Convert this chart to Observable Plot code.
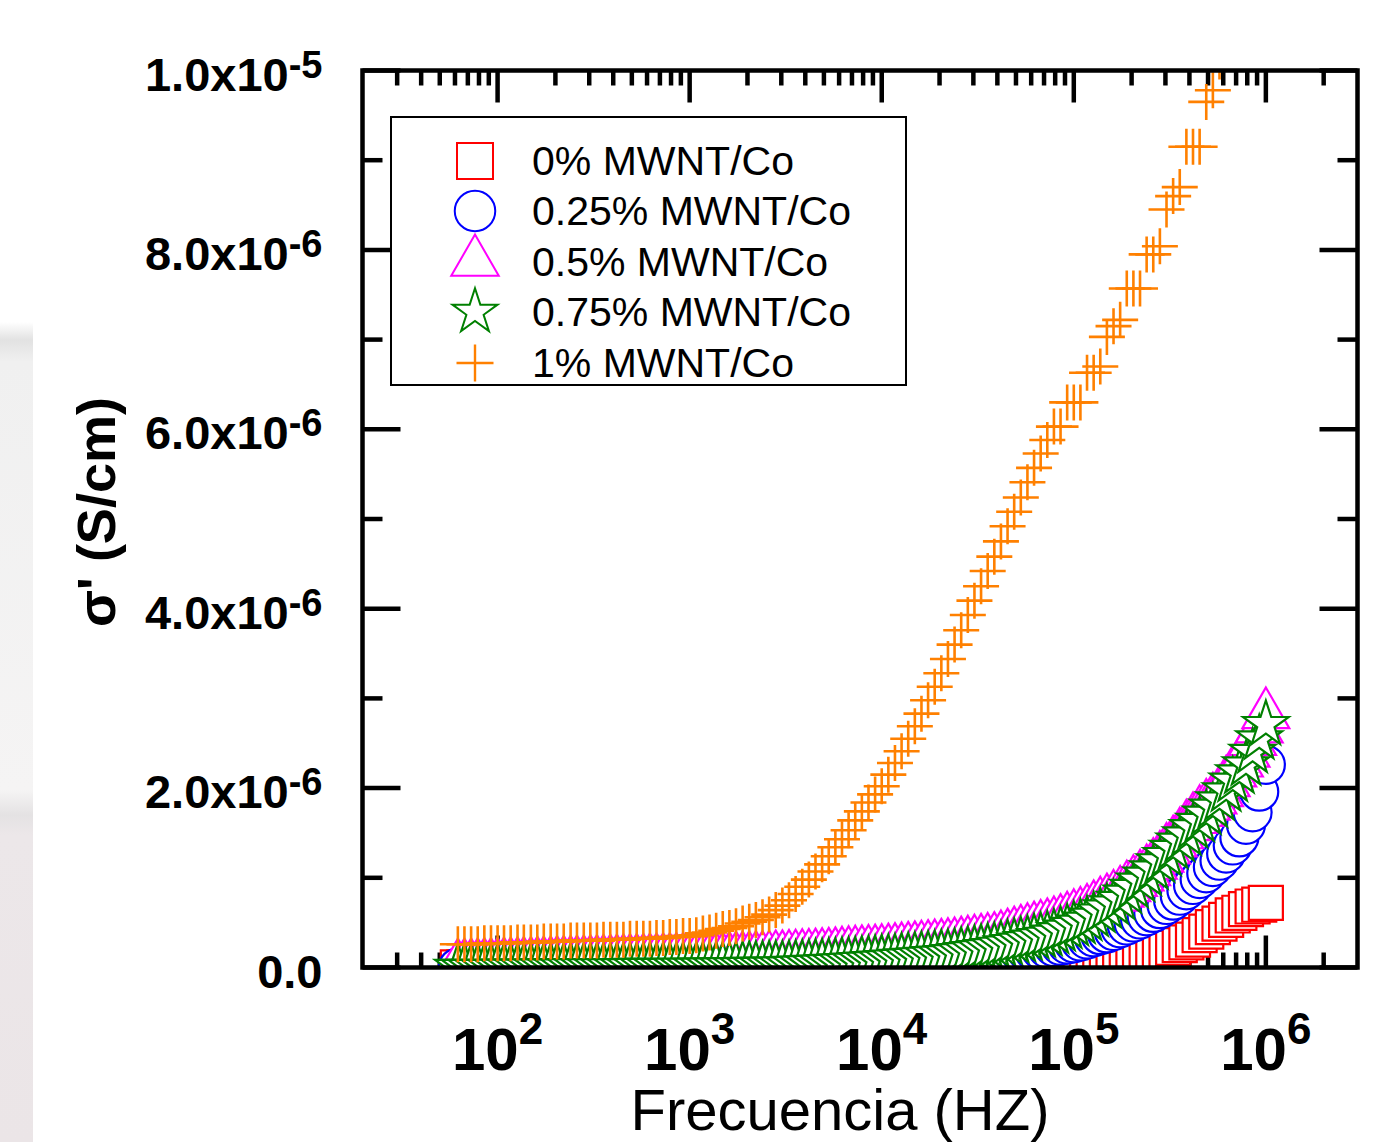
<!DOCTYPE html>
<html>
<head>
<meta charset="utf-8">
<script src="https://cdn.jsdelivr.net/npm/d3@7"></script>
<script src="https://cdn.jsdelivr.net/npm/@observablehq/plot@0.6"></script>
<style>
  html, body { margin: 0; padding: 0; background: #fff; }
  #wrap { position: relative; width: 1375px; height: 1142px; font-family: "Liberation Sans", Arial, sans-serif; overflow: hidden; }
  #strip { position: absolute; left: 0; top: 0; width: 33px; height: 1142px;
    background: linear-gradient(to bottom, #ffffff 0px, #ffffff 322px, #e2e2e2 340px, #f0f0f0 362px, #f5f4f4 790px, #e4e2e3 815px, #ece7e9 835px, #ebe5e7 1142px); }
  #chart { position: absolute; left: 0; top: 0; }
  #legend { position: absolute; left: 390px; top: 116px; width: 517px; height: 270px; box-sizing: border-box;
    border: 2.5px solid #000; background: #fff; }
  #legend .sym { position: absolute; width: 60px; height: 60px; }
  #legend .lab { position: absolute; font-size: 41px; line-height: 50px; height: 50px; white-space: nowrap; color: #000; }
</style>
</head>
<body>
<div id="wrap"><div id="strip"></div><div id="chart"></div></div>
<script>
// ---------------- DATA ----------------
// frequency (Hz)
const freq = [62.1, 67.2, 72.8, 78.8, 85.3, 92.4,
  100, 108, 117, 127, 137, 149, 161, 174, 189, 204, 221, 240, 259, 281, 304, 329, 356, 386, 418, 452, 489, 530, 574, 621, 672, 728, 788, 853, 924,
  1000, 1083, 1172, 1269, 1374, 1487, 1610, 1743, 1887, 2043, 2212, 2395, 2593, 2807, 3039, 3290, 3562, 3857, 4175, 4520, 4894, 5298, 5736, 6210, 6723, 7279, 7881, 8532, 9237,
  10000, 10826, 11721, 12689, 13738, 14873, 16102, 17433, 18874, 20434, 22122, 23950, 25929, 28072, 30392, 32903, 35622, 38566, 41753, 45204, 48939, 52983, 57362, 62102, 67234, 72790, 78805, 85317, 92367,
  100000, 108260, 117210, 126890, 137380, 148730, 161020, 174330, 188740, 204340, 221220, 239500, 259290, 280720, 303920, 329030, 356220, 385660, 417530, 452040, 489390, 529830, 573620, 621020, 672340, 727900, 788050, 853170, 923670,
  1000000];

// sigma' values in units of 1e-7 S/cm
const sigma0 = [0.01, 0.01, 0.01, 0.01, 0.01, 0.01,
  0.01, 0.01, 0.01, 0.01, 0.01, 0.01, 0.01, 0.01, 0.01, 0.01, 0.01, 0.01, 0.01, 0.01, 0.01, 0.01, 0.01, 0.01, 0.01, 0.01, 0.01, 0.01, 0.01, 0.01, 0.01, 0.01, 0.01, 0.01, 0.01,
  0.01, 0.01, 0.01, 0.01, 0.01, 0.01, 0.01, 0.01, 0.01, 0.01, 0.01, 0.01, 0.01, 0.01, 0.01, 0.02, 0.02, 0.02, 0.02, 0.02, 0.02, 0.02, 0.02, 0.02, 0.02, 0.02, 0.02, 0.02, 0.02,
  0.02, 0.02, 0.02, 0.02, 0.02, 0.03, 0.03, 0.03, 0.03, 0.03, 0.04, 0.04, 0.04, 0.04, 0.05, 0.05, 0.06, 0.06, 0.07, 0.08, 0.09, 0.10, 0.11, 0.12, 0.13, 0.14, 0.15, 0.17, 0.18,
  0.20, 0.22, 0.25, 0.30, 0.37, 0.45, 0.53, 0.62, 0.72, 0.80, 0.95, 1.1, 1.3, 1.6, 1.9, 2.2, 2.5, 2.8, 3.1, 3.6, 4.0, 4.5, 4.9, 5.3, 5.8, 6.1, 6.5, 6.8, 7.0,
  7.2];
const sigma025 = [0.02, 0.02, 0.02, 0.02, 0.02, 0.02,
  0.02, 0.02, 0.02, 0.02, 0.02, 0.02, 0.02, 0.02, 0.02, 0.02, 0.03, 0.03, 0.03, 0.03, 0.03, 0.03, 0.03, 0.03, 0.03, 0.03, 0.04, 0.04, 0.04, 0.04, 0.04, 0.04, 0.04, 0.04, 0.04,
  0.05, 0.05, 0.06, 0.06, 0.07, 0.07, 0.08, 0.08, 0.09, 0.09, 0.10, 0.10, 0.11, 0.12, 0.13, 0.14, 0.15, 0.16, 0.17, 0.18, 0.19, 0.20, 0.21, 0.22, 0.23, 0.24, 0.26, 0.27, 0.28,
  0.30, 0.33, 0.37, 0.41, 0.45, 0.49, 0.53, 0.57, 0.61, 0.65, 0.69, 0.74, 0.81, 0.88, 0.96, 1.04, 1.12, 1.21, 1.30, 1.39, 1.47, 1.56, 1.70, 1.84, 1.98, 2.12, 2.27, 2.42, 2.56,
  2.70, 2.90, 3.12, 3.36, 3.60, 3.80, 4.06, 4.37, 4.68, 5.00, 5.35, 5.70, 6.08, 6.50, 6.97, 7.45, 8.00, 8.60, 9.20, 9.85, 10.5, 11.2, 11.9, 12.7, 13.6, 14.5, 15.9, 17.3, 19.6,
  22.6];
const sigma05 = [0.20, 0.22, 0.23, 0.25, 0.27, 0.28,
  0.30, 0.32, 0.34, 0.36, 0.38, 0.40, 0.42, 0.44, 0.47, 0.49, 0.51, 0.53, 0.55, 0.57, 0.59, 0.61, 0.63, 0.65, 0.67, 0.69, 0.71, 0.73, 0.75, 0.77, 0.79, 0.80, 0.82, 0.83, 0.84,
  0.85, 0.87, 0.89, 0.90, 0.92, 0.94, 0.96, 0.98, 1.00, 1.02, 1.04, 1.06, 1.08, 1.10, 1.12, 1.16, 1.20, 1.24, 1.28, 1.32, 1.36, 1.40, 1.46, 1.52, 1.58, 1.63, 1.68, 1.72, 1.76,
  1.80, 1.87, 1.93, 2.00, 2.07, 2.13, 2.20, 2.27, 2.34, 2.40, 2.47, 2.56, 2.66, 2.76, 2.86, 2.96, 3.06, 3.16, 3.33, 3.55, 3.77, 3.97, 4.15, 4.33, 4.51, 4.69, 4.90, 5.16, 5.42,
  5.70, 5.95, 6.30, 6.70, 7.10, 7.45, 7.85, 8.30, 8.90, 9.50, 10.1, 10.7, 11.4, 12.2, 13.1, 13.9, 14.8, 15.7, 16.5, 17.3, 18.0, 18.7, 19.5, 20.6, 21.7, 22.8, 23.9, 25.2, 26.6,
  28.2];
const sigma075 = [0.02, 0.02, 0.02, 0.03, 0.03, 0.03,
  0.04, 0.05, 0.05, 0.06, 0.06, 0.07, 0.07, 0.08, 0.08, 0.09, 0.09, 0.10, 0.10, 0.10, 0.10, 0.11, 0.11, 0.11, 0.12, 0.12, 0.12, 0.13, 0.13, 0.13, 0.14, 0.14, 0.14, 0.15, 0.15,
  0.15, 0.16, 0.17, 0.18, 0.19, 0.20, 0.21, 0.22, 0.23, 0.24, 0.25, 0.26, 0.27, 0.28, 0.29, 0.31, 0.35, 0.39, 0.43, 0.47, 0.51, 0.55, 0.59, 0.63, 0.68, 0.73, 0.79, 0.84, 0.90,
  0.95, 1.01, 1.07, 1.14, 1.20, 1.26, 1.32, 1.38, 1.45, 1.51, 1.57, 1.66, 1.78, 1.89, 2.00, 2.12, 2.23, 2.35, 2.49, 2.65, 2.80, 2.96, 3.12, 3.28, 3.45, 3.61, 3.84, 4.12, 4.40,
  4.70, 4.97, 5.30, 5.75, 6.20, 6.65, 7.10, 7.60, 8.30, 8.95, 9.65, 10.3, 11.0, 11.8, 12.5, 13.3, 14.1, 14.8, 15.6, 16.3, 17.1, 17.9, 18.7, 19.7, 20.8, 21.7, 22.6, 24.0, 25.5,
  27.1];
const sigma1 = [2.6, 2.6, 2.6, 2.6, 2.7, 2.7,
  2.7, 2.7, 2.7, 2.8, 2.8, 2.8, 2.8, 2.9, 2.9, 2.9, 2.9, 3.0, 3.0, 3.0, 3.0, 3.0, 3.1, 3.1, 3.1, 3.1, 3.2, 3.2, 3.2, 3.2, 3.3, 3.3, 3.4, 3.4, 3.5,
  3.5, 3.6, 3.8, 3.9, 4.1, 4.3, 4.4, 4.6, 4.9, 5.1, 5.3, 5.6, 5.9, 6.4, 6.9, 7.5, 8.2, 9.0, 9.8, 10.7, 11.5, 12.4, 13.4, 14.3, 15.3, 16.4, 17.4, 18.4, 19.3,
  20.2, 21.5, 22.8, 24.1, 25.5, 26.9, 28.3, 29.8, 31.3, 32.8, 34.4, 36.0, 37.6, 39.3, 40.9, 42.5, 44.2, 45.8, 47.5, 49.2, 50.8, 52.4, 54.1, 55.7, 57.3, 58.8, 60.3, 60.3, 63.0,
  63.0, 63.0, 66.3, 66.3, 67.0, 70.3, 71.5, 72.2, 75.7, 75.7, 75.7, 79.5, 79.5, 80.4, 84.5, 86.0, 87.0, 91.5, 91.5, 91.5, 96.5, 97.8, 101, 104, 106, 109, 112, 115, 118,
  121];

const seriesNames = ["0% MWNT/Co", "0.25% MWNT/Co", "0.5% MWNT/Co", "0.75% MWNT/Co", "1% MWNT/Co"];
const seriesValues = [sigma0, sigma025, sigma05, sigma075, sigma1];
const seriesColors = ["#ff0000", "#0000ff", "#ff00ff", "#008000", "#ff8000"];

// axis ticks and labels
const xMajor = [1e2, 1e3, 1e4, 1e5, 1e6];
const xMajorLabels = ["10|2", "10|3", "10|4", "10|5", "10|6"];
const xMinor = [30, 40, 50, 60, 70, 80, 90,
  200, 300, 400, 500, 600, 700, 800, 900,
  2000, 3000, 4000, 5000, 6000, 7000, 8000, 9000,
  20000, 30000, 40000, 50000, 60000, 70000, 80000, 90000,
  200000, 300000, 400000, 500000, 600000, 700000, 800000, 900000,
  2000000];
const yMajor = [0, 2e-6, 4e-6, 6e-6, 8e-6, 1e-5];
const yMajorLabels = ["0.0", "2.0x10|-6", "4.0x10|-6", "6.0x10|-6", "8.0x10|-6", "1.0x10|-5"];
const yMinor = [1e-6, 3e-6, 5e-6, 7e-6, 9e-6];
const xTitle = "Frecuencia (HZ)";
const yTitle = "σ' (S/cm)";

// ---------------- SYMBOLS ----------------
const plusSymbol = {
  draw(context, size) {
    const r = Math.sqrt(size / Math.PI);
    context.moveTo(-r, 0); context.lineTo(r, 0);
    context.moveTo(0, -r); context.lineTo(0, r);
  }
};
const tickShape = { draw(context, l) { context.moveTo(0, 0); context.lineTo(0, -l); } };
const seriesSymbols = [d3.symbolSquare, d3.symbolCircle, d3.symbolTriangle, d3.symbolStar, plusSymbol];
const seriesR = [19.2, 19, 17.4, 14.3, 18];
const seriesFill = ["white", "white", "white", "white", "none"];
const seriesStrokeW = [2.2, 2.2, 2.2, 2.2, 2.6];
const legendSizes = [1296, 1288, 977, 630, Math.PI * 18.5 * 18.5];

// ---------------- MARKS ----------------
const dotMarks = seriesNames.map((name, s) => {
  const rows = freq.map((f, i) => ({ f, v: seriesValues[s][i] * 1e-7 }));
  return Plot.dot(rows, {
    x: "f", y: "v", symbol: seriesSymbols[s], r: seriesR[s],
    stroke: seriesColors[s], fill: seriesFill[s], strokeWidth: seriesStrokeW[s], clip: true
  });
});

const tickCommon = { anchor: "start", shape: tickShape, stroke: "black", strokeWidth: 4.5, strokeLinecap: "butt" };

const chart = Plot.plot({
  width: 1375,
  height: 1142,
  marginLeft: 362,
  marginRight: 18,
  marginTop: 70,
  marginBottom: 175,
  style: { fontFamily: "'Liberation Sans', Arial, sans-serif", background: "transparent", color: "black" },
  x: { type: "log", domain: [19.8, 3.0e6], axis: null, label: null },
  y: { domain: [0, 1e-5], axis: null, label: null },
  marks: [
    // inward ticks, all four sides (drawn beneath the markers)
    Plot.vector(xMajor, { x: d => d, frameAnchor: "bottom", rotate: 0, length: 32, ...tickCommon }),
    Plot.vector(xMinor, { x: d => d, frameAnchor: "bottom", rotate: 0, length: 15, ...tickCommon }),
    Plot.vector(xMajor, { x: d => d, frameAnchor: "top", rotate: 180, length: 32, ...tickCommon }),
    Plot.vector(xMinor, { x: d => d, frameAnchor: "top", rotate: 180, length: 15, ...tickCommon }),
    Plot.vector(yMajor, { y: d => d, frameAnchor: "left", rotate: 90, length: 38, ...tickCommon }),
    Plot.vector(yMinor, { y: d => d, frameAnchor: "left", rotate: 90, length: 20, ...tickCommon }),
    Plot.vector(yMajor, { y: d => d, frameAnchor: "right", rotate: -90, length: 38, ...tickCommon }),
    Plot.vector(yMinor, { y: d => d, frameAnchor: "right", rotate: -90, length: 20, ...tickCommon }),
    ...dotMarks,
    Plot.frame({ stroke: "black", strokeWidth: 4.5 }),
    // tick labels
    Plot.axisY(yMajor, { anchor: "left", tickSize: 0, tickPadding: 40, dy: 5, label: null,
      tickFormat: d => yMajorLabels[yMajor.indexOf(d)], fontSize: 47, fontWeight: "bold", fill: "black" }),
    Plot.axisX(xMajor, { anchor: "bottom", tickSize: 0, tickPadding: 60, label: null,
      tickFormat: d => xMajorLabels[xMajor.indexOf(d)], fontSize: 60, fontWeight: "bold", fill: "black" }),
    // titles
    Plot.text([xTitle], { text: d => d, frameAnchor: "bottom", lineAnchor: "top", dy: 121, dx: -20,
      fontSize: 58, fill: "black" }),
    Plot.text([yTitle], { text: d => d, frameAnchor: "left", textAnchor: "middle", rotate: -90, dx: -265, dy: -7,
      fontSize: 54, fontWeight: "bold", fill: "black" })
  ]
});

// superscripts in tick labels
function supify(label, supSize, shift) {
  chart.querySelectorAll(`g[aria-label="${label}"] text`).forEach(t => {
    const parts = t.textContent.split("|");
    if (parts.length < 2) return;
    t.textContent = parts[0];
    const ts = document.createElementNS("http://www.w3.org/2000/svg", "tspan");
    ts.setAttribute("font-size", supSize);
    ts.setAttribute("dy", -shift);
    ts.textContent = parts[1];
    t.appendChild(ts);
  });
}
supify("y-axis tick label", 38, 13);
supify("x-axis tick label", 44, 26);

document.getElementById("chart").appendChild(chart);

// ---------------- LEGEND ----------------
const legend = document.createElement("div");
legend.id = "legend";
seriesNames.forEach((name, s) => {
  const cy = 42.5 + s * 50.5;
  const svg = d3.create("svg").attr("class", "sym").attr("width", 60).attr("height", 60)
    .style("left", (82.5 - 30) + "px").style("top", (cy - 30) + "px");
  svg.append("path")
    .attr("transform", "translate(30,30)")
    .attr("d", d3.symbol(seriesSymbols[s], legendSizes[s])())
    .attr("fill", "none")
    .attr("stroke", seriesColors[s])
    .attr("stroke-width", s === 4 ? 2.4 : 2);
  legend.appendChild(svg.node());
  const lab = document.createElement("div");
  lab.className = "lab";
  lab.textContent = name;
  lab.style.left = "140px";
  lab.style.top = (cy - 25) + "px";
  legend.appendChild(lab);
});
document.getElementById("wrap").appendChild(legend);
</script>
</body>
</html>
